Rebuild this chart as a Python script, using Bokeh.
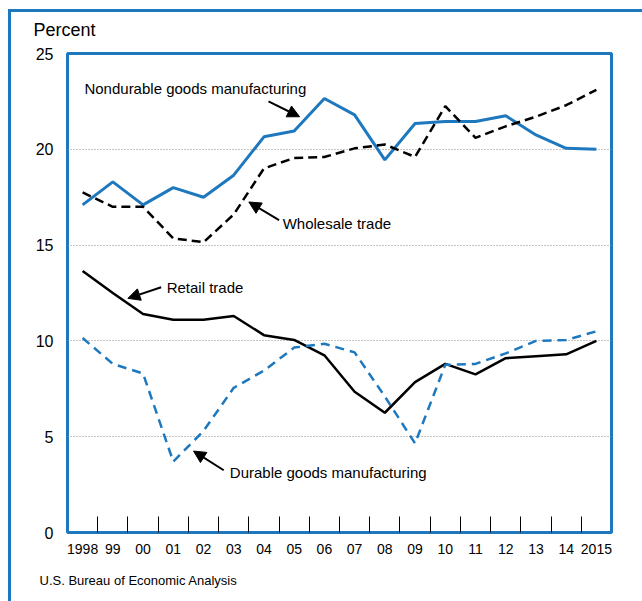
from bokeh.plotting import figure
from bokeh.models import FixedTicker, Label, Arrow, NormalHead, Title
from bokeh.embed import file_html
from bokeh.resources import INLINE

years = ["1998", "99", "00", "01", "02", "03", "04", "05", "06", "07",
         "08", "09", "10", "11", "12", "13", "14", "2015"]
nondurable = [17.1, 18.3, 17.1, 18.0, 17.5, 18.65, 20.65, 20.95, 22.65, 21.8,
              19.45, 21.35, 21.45, 21.45, 21.75, 20.75, 20.05, 20.0]
wholesale = [17.75, 17.0, 17.0, 15.35, 15.15, 16.6, 19.0, 19.55, 19.6, 20.05,
             20.25, 19.6, 22.25, 20.6, 21.2, 21.7, 22.3, 23.1]
retail = [13.65, 12.5, 11.4, 11.1, 11.1, 11.3, 10.3, 10.05, 9.25, 7.35,
          6.25, 7.85, 8.8, 8.25, 9.1, 9.2, 9.3, 10.0]
durable = [10.15, 8.8, 8.3, 3.7, 5.3, 7.55, 8.45, 9.65, 9.85, 9.4,
           7.1, 4.65, 8.75, 8.8, 9.35, 10.0, 10.05, 10.5]
y_ticks = [0, 5, 10, 15, 20, 25]
grid_ticks = [5, 10, 15, 20]

BLUE = "#1e78be"
FONT = "Liberation Sans"

x = list(range(len(years)))

p = figure(width=642, height=601, x_range=(-0.5, len(years) - 0.5), y_range=(0, 25),
           output_backend="svg", toolbar_location=None,
           min_border_left=67, min_border_right=31, min_border_top=53, min_border_bottom=68)
# outer page frame (top and left edges) drawn as the element background
p.styles = {
    "background-image": f"linear-gradient({BLUE}, {BLUE}), linear-gradient({BLUE}, {BLUE})",
    "background-position": "8px 9px, 8px 9px",
    "background-size": "3px 100%, 100% 3px",
    "background-repeat": "no-repeat, no-repeat",
    "background-color": "white",
}
p.outline_line_color = BLUE
p.outline_line_width = 3
p.background_fill_color = "white"
p.border_fill_color = None

# x axis
xa = p.xaxis[0]
xa.ticker = FixedTicker(ticks=x, minor_ticks=[i + 0.5 for i in x[:-1]])
xa.major_label_overrides = {i: y for i, y in enumerate(years)}
xa.major_tick_in = 0
xa.major_tick_out = 0
xa.minor_tick_in = 16
xa.minor_tick_out = 0
xa.minor_tick_line_color = "black"
xa.minor_tick_line_width = 1
xa.axis_line_color = None
xa.major_label_text_font = FONT
xa.major_label_text_font_size = "14px"
xa.major_label_text_color = "black"
xa.major_label_standoff = 11

# y axis
ya = p.yaxis[0]
ya.ticker = FixedTicker(ticks=y_ticks)
ya.major_tick_in = 0
ya.major_tick_out = 0
ya.minor_tick_line_color = None
ya.axis_line_color = None
ya.major_label_text_font = FONT
ya.major_label_text_font_size = "16px"
ya.major_label_text_color = "black"
ya.major_label_standoff = 14

p.xgrid.visible = False
p.ygrid.ticker = FixedTicker(ticks=grid_ticks)
p.ygrid.grid_line_color = "#8a8a8a"
p.ygrid.grid_line_dash = "1 2"
p.ygrid.grid_line_width = 1

# series
p.line(x, nondurable, line_color=BLUE, line_width=3)
p.line(x, wholesale, line_color="black", line_width=2.5, line_dash="9 5")
p.line(x, retail, line_color="black", line_width=2.5)
p.line(x, durable, line_color=BLUE, line_width=2.5, line_dash="9 6")

# annotations: label text, label position, arrow start, arrow end (data units)
notes = [
    ("Nondurable goods manufacturing", (0.06, 23.15), (6.15, 22.5), (7.18, 21.7)),
    ("Wholesale trade", (6.62, 16.15), (6.5, 16.3), (5.5, 17.25)),
    ("Retail trade", (2.78, 12.8), (2.6, 12.8), (1.5, 12.22)),
    ("Durable goods manufacturing", (4.87, 3.12), (4.67, 3.25), (3.67, 4.25)),
]
for text, (lx, ly), (sx, sy), (ex, ey) in notes:
    p.add_layout(Label(x=lx, y=ly, text=text, text_font=FONT, text_font_size="15px",
                       text_baseline="middle", text_align="left", text_color="black"))
    p.add_layout(Arrow(x_start=sx, y_start=sy, x_end=ex, y_end=ey, line_width=2,
                       line_color="black",
                       end=NormalHead(size=12, fill_color="black", line_color="black")))

p.add_layout(Title(text="Percent", align="left", offset=-34, text_font=FONT,
                   text_font_size="18px", text_font_style="normal", text_color="black",
                   standoff=27), "above")
p.add_layout(Title(text="U.S. Bureau of Economic Analysis", align="left", offset=-28,
                   text_font=FONT, text_font_size="13px", text_font_style="normal",
                   text_color="black", standoff=28), "below")

open("out.html", "w").write(file_html(p, INLINE))
